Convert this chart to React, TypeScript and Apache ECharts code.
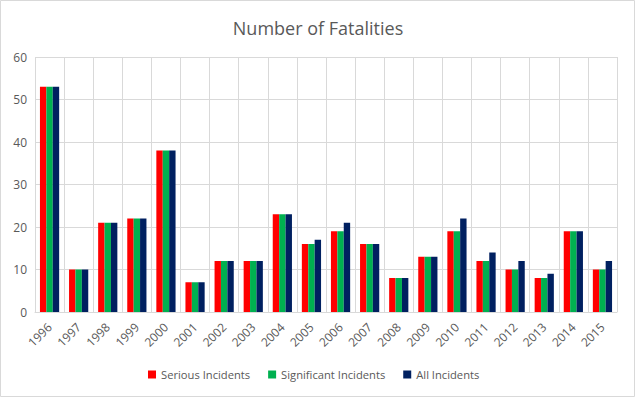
import React, { useEffect, useRef } from "react";
import * as echarts from "echarts";

const years = [
  "1996", "1997", "1998", "1999", "2000", "2001", "2002", "2003", "2004", "2005",
  "2006", "2007", "2008", "2009", "2010", "2011", "2012", "2013", "2014", "2015",
];
const serious = [53, 10, 21, 22, 38, 7, 12, 12, 23, 16, 19, 16, 8, 13, 19, 12, 10, 8, 19, 10];
const significant = [53, 10, 21, 22, 38, 7, 12, 12, 23, 16, 19, 16, 8, 13, 19, 12, 10, 8, 19, 10];
const allIncidents = [53, 10, 21, 22, 38, 7, 12, 12, 23, 17, 21, 16, 8, 13, 22, 14, 12, 9, 19, 12];

const FONT = "'Open Sans', 'Liberation Sans', sans-serif";
const TEXT = "#595959";
const GRID = "#d9d9d9";

export default function App() {
  const ref = useRef<HTMLDivElement>(null);

  useEffect(() => {
    document.body.style.margin = "0";
    const chart = echarts.init(ref.current!, null, { renderer: "svg" });
    chart.setOption({
      animation: false,
      backgroundColor: "#ffffff",
      title: {
        text: "Number of Fatalities",
        left: "center",
        top: 14,
        textStyle: { fontFamily: FONT, fontSize: 18, fontWeight: "normal", color: TEXT },
      },
      graphic: [
        {
          type: "rect",
          shape: { x: 0.5, y: 0.5, width: 634, height: 396 },
          style: { fill: "none", stroke: GRID, lineWidth: 1 },
          silent: true,
        },
      ],
      legend: {
        bottom: 13,
        left: 143,
        itemWidth: 8,
        itemHeight: 8,
        itemGap: 18,
        icon: "rect",
        textStyle: { fontFamily: FONT, fontSize: 11.2, color: TEXT },
        data: ["Serious Incidents", "Significant Incidents", "All Incidents"],
      },
      grid: { left: 35, right: 19, top: 57, bottom: 86, containLabel: false },
      xAxis: {
        type: "category",
        data: years,
        axisLine: { lineStyle: { color: GRID } },
        axisTick: { show: false },
        splitLine: { show: true, lineStyle: { color: GRID } },
        axisLabel: {
          rotate: 45,
          interval: 0,
          color: TEXT,
          fontFamily: FONT,
          fontSize: 12,
          margin: 13,
        },
      },
      yAxis: {
        type: "value",
        min: 0,
        max: 60,
        interval: 10,
        axisLine: { show: false },
        axisTick: { show: false },
        splitLine: { lineStyle: { color: GRID } },
        axisLabel: { color: TEXT, fontFamily: FONT, fontSize: 12, margin: 8 },
      },
      series: [
        { name: "Serious Incidents", type: "bar", data: serious, itemStyle: { color: "#ff0000" }, barGap: "0%", barCategoryGap: "34%" },
        { name: "Significant Incidents", type: "bar", data: significant, itemStyle: { color: "#00b050" }, barGap: "0%", barCategoryGap: "34%" },
        { name: "All Incidents", type: "bar", data: allIncidents, itemStyle: { color: "#002060" }, barGap: "0%", barCategoryGap: "34%" },
      ],
    });
    return () => chart.dispose();
  }, []);

  return <div ref={ref} style={{ width: 636, height: 398 }} />;
}
